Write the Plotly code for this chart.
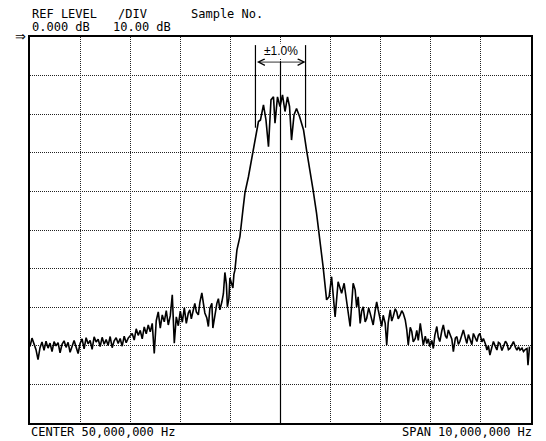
import numpy as np
import plotly.graph_objects as go

# ---------------- data ----------------
center_freq_mhz = 50.0
span_mhz = 10.0
ref_level_db = 0.0
db_per_div = 10.0
n_vdiv = 10
n_hdiv = 10
marker_pct = 1.0

header_labels = ["REF LEVEL", "/DIV", "Sample No."]
header_values = ["0.000 dB", "10.00 dB"]
footer_labels = ["CENTER 50,000,000 Hz", "SPAN 10,000,000 Hz"]
marker_label = "±1.0%"

# left noise floor (uniform sweep points, offset from center in MHz)
left_offsets = np.round(np.linspace(-5.0, -1.84, 80), 3)
left_levels = [
    -80.2, -78.0, -79.5, -81.0, -83.6, -80.5, -79.0, -81.2, -78.8, -80.6,
    -79.3, -81.5, -78.9, -80.0, -79.2, -81.8, -79.6, -78.7, -80.4, -79.1,
    -81.7, -80.0, -78.6, -80.3, -82.0, -79.4,
    -78.2, -80.8, -77.9, -79.5, -78.6, -80.9, -77.7, -79.0, -78.3, -80.2,
    -77.8, -79.6, -78.4, -79.9, -77.6, -80.5, -78.7, -77.9, -79.4, -78.1,
    -80.1, -77.5, -79.2, -78.0, -77.4,
    -76.8, -78.5, -75.6, -77.3, -76.0, -78.2, -75.1, -76.9, -74.6, -76.4,
    -74.2, -82.0,
    -73.5, -71.2, -75.4, -72.0, -73.8, -70.9, -74.6, -72.2, -66.8,
    -79.3, -72.5, -74.8, -71.0, -73.9, -70.2, -74.2, -71.5,
]

# main lobe region
center_offsets = [
    -1.81, -1.78, -1.71, -1.68, -1.64, -1.61, -1.57, -1.54, -1.51, -1.47,
    -1.44, -1.41, -1.37, -1.35, -1.31, -1.27, -1.24, -1.21, -1.17, -1.14,
    -1.11, -1.08, -1.06, -1.03, -1.01, -0.98, -0.95, -0.93, -0.91,
    -0.87, -0.81, -0.75, -0.71,
    -0.64, -0.57, -0.51, -0.44, -0.40, -0.34, -0.29, -0.24, -0.19, -0.14,
    -0.11, -0.06, -0.01, 0.04, 0.09, 0.14, 0.18, 0.22, 0.27, 0.32,
    0.38, 0.46, 0.52, 0.59, 0.65, 0.72, 0.79, 0.85, 0.92, 0.97,
    1.02, 1.09, 1.15, 1.22, 1.27, 1.32, 1.39, 1.45,
]
center_levels = [
    -70.7, -73.0, -69.0, -71.2, -72.0, -68.8, -66.3, -69.5, -71.5, -72.8,
    -75.0, -70.3, -69.0, -75.4, -72.0, -69.0, -67.8, -70.7, -68.6, -66.5,
    -61.0, -64.0, -69.9, -67.8, -62.4, -63.5, -65.0, -61.5, -60.4,
    -55.2, -51.7, -44.8, -40.4,
    -36.2, -31.0, -26.7, -21.9, -21.5, -17.6, -21.5, -28.4, -16.3, -15.5,
    -22.3, -15.5, -18.0, -15.0, -19.3, -15.5, -18.0, -26.7, -20.2, -18.5,
    -20.6, -24.1, -29.3, -34.5, -39.6, -45.7, -52.6, -59.5, -68.1, -67.3,
    -62.1, -72.5, -63.4, -66.4, -63.8, -68.1, -75.0, -63.8,
]

# right noise floor
right_offsets = [
    1.49, 1.52, 1.55, 1.59, 1.62, 1.65, 1.69, 1.72, 1.76, 1.79,
    1.82, 1.85, 1.89, 1.92, 1.95, 1.99, 2.02, 2.05, 2.09, 2.12,
    2.15, 2.19, 2.22, 2.25, 2.29, 2.32, 2.35, 2.39, 2.42, 2.45,
    2.49, 2.52, 2.55, 2.59, 2.62, 2.65, 2.69, 2.72, 2.75, 2.79,
    2.82, 2.85, 2.89, 2.92, 2.95, 2.98, 3.02, 3.05, 3.08, 3.12,
    3.15, 3.18, 3.22, 3.25, 3.29, 3.32, 3.35, 3.38, 3.42, 3.45,
    3.49, 3.52, 3.55, 3.58, 3.62, 3.65, 3.69, 3.72, 3.75, 3.78,
    3.82, 3.85, 3.89, 3.92, 3.95, 3.98, 4.02, 4.05, 4.09, 4.12,
    4.15, 4.18, 4.22, 4.25, 4.29, 4.32, 4.35, 4.38, 4.42, 4.45,
    4.49, 4.52, 4.55, 4.58, 4.62, 4.65, 4.69, 4.72, 4.75, 4.78,
    4.82, 4.85, 4.89, 4.92, 4.94, 4.97,
]
right_levels = [
    -65.5, -70.0, -67.3, -74.2, -71.0, -69.9, -73.8, -72.9, -70.2, -71.6,
    -73.5, -74.6, -70.8, -68.6, -70.7, -72.8, -75.0, -72.1, -74.2, -79.8,
    -74.0, -70.7, -73.6, -72.4, -70.4, -71.2, -73.0, -72.0, -70.9, -71.6,
    -73.3, -75.8, -79.8, -75.2, -76.3, -79.0, -78.1, -76.0, -78.6, -74.2,
    -77.0, -79.8, -77.5, -79.4, -78.2, -80.2, -78.6, -80.7, -77.3, -75.0,
    -77.8, -78.9, -76.1, -74.6, -77.4, -78.1, -75.9, -76.8, -78.3, -81.5,
    -78.0, -77.6, -79.6, -78.9, -77.2, -75.9, -78.0, -79.4, -77.1, -78.5,
    -79.7, -76.8, -78.2, -78.9, -77.3, -76.8, -79.0, -78.1, -79.5, -81.1,
    -80.0, -82.4, -80.3, -78.9, -80.2, -81.1, -79.1, -79.4, -81.2, -80.2,
    -78.8, -79.4, -81.0, -80.7, -79.6, -78.9, -80.4, -81.1, -80.3, -81.1,
    -80.6, -81.5, -80.9, -80.7, -85.0, -80.2,
]

# ---------------- figure ----------------
W, H = 546, 441
ML, MR, MT, MB = 30, 15, 37, 18
PW, PH = W - ML - MR, H - MT - MB

def px_x(px):
    return (px - ML) / PW

def px_y(py):
    return (H - MB - py) / PH

offsets = np.concatenate([left_offsets, center_offsets, right_offsets])
levels = np.concatenate([left_levels, center_levels, right_levels])
freqs = center_freq_mhz + offsets

x_lo = center_freq_mhz - span_mhz / 2
x_hi = center_freq_mhz + span_mhz / 2
y_hi = ref_level_db
y_lo = ref_level_db - db_per_div * n_vdiv
mk_half = center_freq_mhz * marker_pct / 100.0

fig = go.Figure()
fig.add_trace(go.Scatter(
    x=freqs, y=levels, mode="lines",
    line=dict(color="black", width=1.6),
    hoverinfo="skip", showlegend=False,
))

grid_col = "#222222"
grid_dash = "1px,1px"
fig.update_xaxes(
    range=[x_lo, x_hi], tick0=x_lo, dtick=span_mhz / n_hdiv,
    showgrid=True, gridcolor=grid_col, gridwidth=1, griddash=grid_dash,
    showticklabels=False, ticks="", zeroline=False,
    showline=True, linecolor="black", linewidth=1.5, mirror=True,
)
fig.update_yaxes(
    range=[y_lo, y_hi], tick0=y_lo, dtick=db_per_div,
    showgrid=True, gridcolor=grid_col, gridwidth=1, griddash=grid_dash,
    showticklabels=False, ticks="", zeroline=False,
    showline=True, linecolor="black", linewidth=1.5, mirror=True,
)

arrow_level = -6.5
marker_top = -2.1
marker_bottom = -23.5

# center line
fig.add_shape(type="line", x0=center_freq_mhz, x1=center_freq_mhz,
              y0=arrow_level, y1=y_lo, xref="x", yref="y",
              line=dict(color="black", width=1.2))
# ±1% marker lines
for fx in (center_freq_mhz - mk_half, center_freq_mhz + mk_half):
    fig.add_shape(type="line", x0=fx, x1=fx, y0=marker_top, y1=marker_bottom,
                  xref="x", yref="y", line=dict(color="black", width=1.2))
# double arrow
fig.add_annotation(x=center_freq_mhz + mk_half, y=arrow_level,
                   ax=center_freq_mhz - mk_half, ay=arrow_level,
                   xref="x", yref="y", axref="x", ayref="y",
                   text="", showarrow=True, arrowside="end+start",
                   arrowhead=5, arrowsize=1.6, arrowwidth=0.8, arrowcolor="black")
fig.add_annotation(x=center_freq_mhz, y=-3.6, xref="x", yref="y",
                   text=marker_label, showarrow=False, bgcolor="white",
                   borderpad=0,
                   font=dict(family="Liberation Sans", size=12, color="black"))

mono = dict(family="DejaVu Sans Mono", size=12, color="black")

def label(txt, px, py, anchor="left", font=mono):
    fig.add_annotation(x=px_x(px), y=px_y(py), xref="paper", yref="paper",
                       text=txt, showarrow=False, xanchor=anchor, yanchor="middle",
                       borderpad=0, font=font)

label(header_labels[0], 31, 14)
label(header_labels[1], 117, 14)
label(header_labels[2], 190, 14)
label(header_values[0], 31, 27)
label(header_values[1], 112, 27)
label("⇒", 14, 36, font=dict(family="DejaVu Sans", size=13, color="black"))
label(footer_labels[0], 30, 432)
label(footer_labels[1], 533, 432, anchor="right")

fig.update_layout(
    width=W, height=H,
    margin=dict(l=ML, r=MR, t=MT, b=MB),
    paper_bgcolor="white", plot_bgcolor="white",
    showlegend=False,
)

fig.write_html("out.html", config={"displayModeBar": False})

# remove the browser's default page margin so the figure sits at (0, 0)
with open("out.html", "r", encoding="utf-8") as fh:
    page = fh.read()
page = page.replace("<body>", '<body style="margin:0;padding:0;">', 1)
with open("out.html", "w", encoding="utf-8") as fh:
    fh.write(page)
